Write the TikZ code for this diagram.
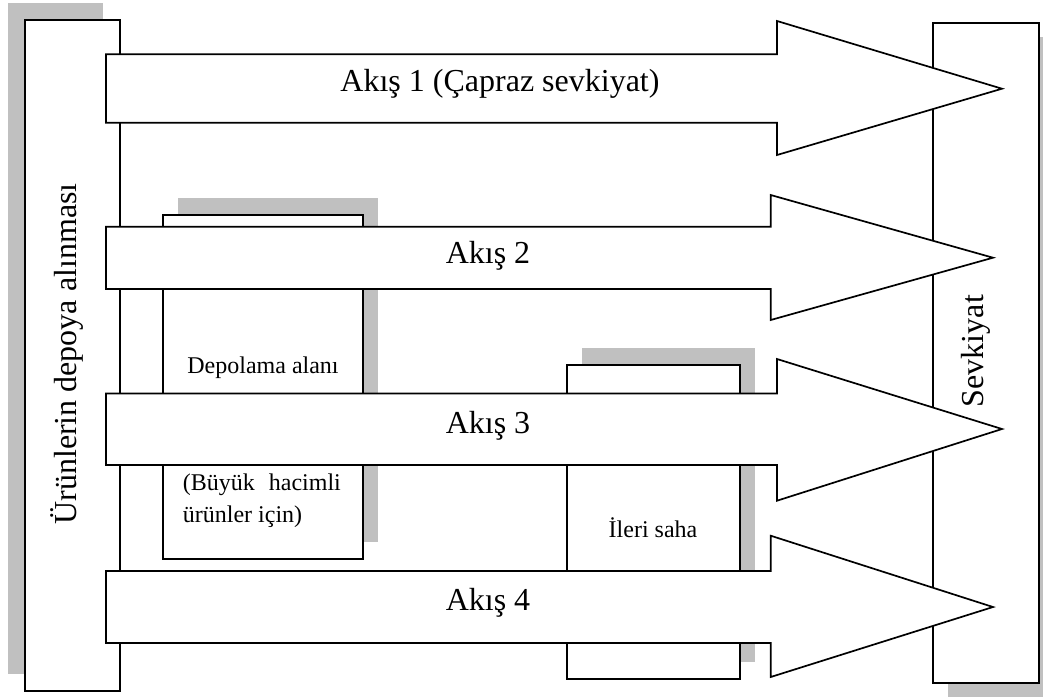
\documentclass[tikz,border=0pt]{standalone}
\usepackage{fontspec}
\setmainfont{Liberation Serif}
\definecolor{shadowgray}{RGB}{192,192,192}
\begin{document}
\begin{tikzpicture}[x=1pt,y=-1pt,
  box/.style={draw=black, fill=white, line width=1.7pt, inner sep=0pt, anchor=north west},
  shadowbox/.style={fill=shadowgray},
  flow/.style={draw=black, fill=white, line width=1.7pt, line join=miter},
  bigtext/.style={font=\fontsize{32}{38}\selectfont, inner sep=0pt},
  smalltext/.style={font=\fontsize{24}{32}\selectfont, inner sep=0pt}]
\useasboundingbox (0,0) rectangle (1043,697);

% drop shadows
\fill[shadowbox] (8,3) rectangle (103,674);
\fill[shadowbox] (178,198) rectangle (378,542);
\fill[shadowbox] (582,348) rectangle (755,662);
\fill[shadowbox] (948,37) rectangle (1043,697);

% receiving and shipping columns
\node[box, minimum width=95pt, minimum height=671pt] (recv) at (24,19) {};
\node[box, minimum width=106pt, minimum height=660pt] (ship) at (932,22) {};

% storage areas
\node[box, minimum width=200pt, minimum height=344pt] (store) at (162,214) {};
\node[box, minimum width=173pt, minimum height=314pt] (fwd) at (566,364) {};

% flow arrows
\draw[flow] (106,54.3) -- (777,54.3) -- (777,21) -- (1002,88.7) -- (777,155)
  -- (777,122.7) -- (106,122.7) -- cycle;
\draw[flow] (106,226.7) -- (770.7,226.7) -- (770.7,195) -- (993,257.7) -- (770.7,320)
  -- (770.7,289) -- (106,289) -- cycle;
\draw[flow] (106,393.5) -- (777,393.5) -- (777,359) -- (1002,429) -- (777,500.7)
  -- (777,465) -- (106,465) -- cycle;
\draw[flow] (106,571) -- (770.7,571) -- (770.7,535.7) -- (993,607) -- (770.7,677)
  -- (770.7,643) -- (106,643) -- cycle;

% labels
\node[bigtext, anchor=base] (f1) at (500,91) {Akış 1 (Çapraz sevkiyat)};
\node[bigtext, anchor=base] (f2) at (488,263) {Akış 2};
\node[bigtext, anchor=base] (f3) at (488,433) {Akış 3};
\node[bigtext, anchor=base] (f4) at (488,610) {Akış 4};

\node[bigtext, anchor=base, rotate=90] (recvlabel) at (76,354) {Ürünlerin depoya alınması};
\node[bigtext, anchor=base, rotate=90] (shiplabel) at (983,351) {Sevkiyat};

\node[smalltext, anchor=base] (storelabel) at (263,373) {Depolama alanı};
\node[smalltext, anchor=base west] (storenote1) at (182.7,490) {(Büyük\hspace{14pt}hacimli};
\node[smalltext, anchor=base west] (storenote2) at (182.7,522) {ürünler için)};
\node[smalltext, anchor=base] (fwdlabel) at (653,537) {İleri saha};
\end{tikzpicture}
\end{document}
